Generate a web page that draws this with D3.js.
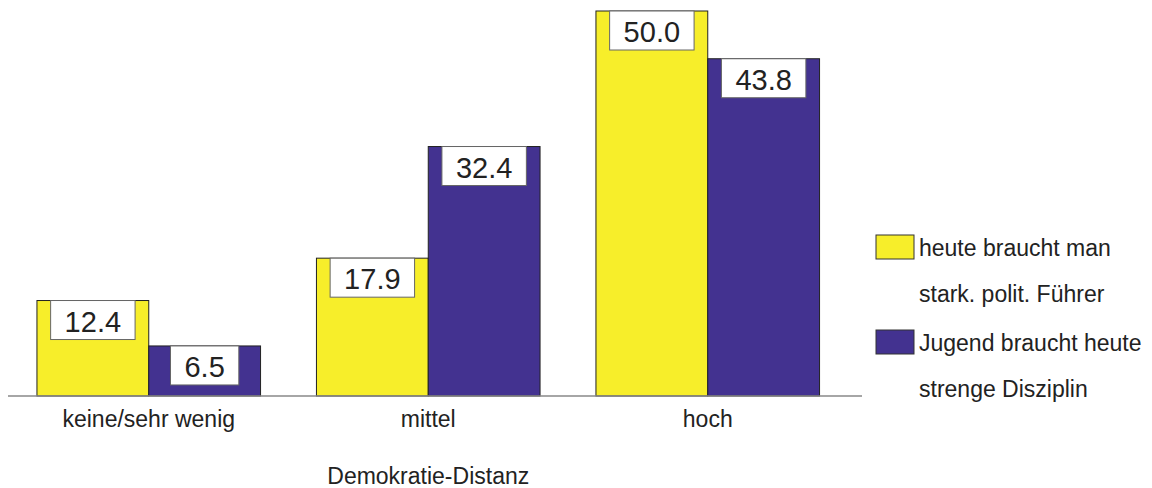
<!DOCTYPE html>
<html><head><meta charset="utf-8">
<script src="https://cdn.jsdelivr.net/npm/d3@7"></script>
<style>body{margin:0;background:#fff}svg{display:block;font-family:"Liberation Sans",Arial,sans-serif}</style>
</head><body><svg id="c" width="1152" height="488"></svg>
<script>
const categories = ["keine/sehr wenig", "mittel", "hoch"];
const seriesNames = ["heute braucht man|stark. polit. Führer", "Jugend braucht heute|strenge Disziplin"];
const fuehrer = [12.4, 17.9, 50.0];
const disziplin = [6.5, 32.4, 43.8];
const colors = ["#F7EE2A", "#433290"];
const axisTitle = "Demokratie-Distanz";

const svg = d3.select("#c");
const series = [fuehrer, disziplin];
const x0 = d3.scaleBand().domain(categories).range([9, 847.5]).paddingInner(0.2).paddingOuter(0.1);
const x1 = d3.scaleBand().domain([0, 1]).range([0, x0.bandwidth()]);
const y = d3.scaleLinear().domain([0, 50]).range([396, 11]);

const g = svg.selectAll("g.grp").data(categories).join("g").attr("transform", d => `translate(${x0(d)},0)`);
const data = categories.map((c, i) => series.map((s, k) => ({k, v: s[i]})));
g.each(function(c, i) {
  const gg = d3.select(this);
  const items = data[i];
  gg.selectAll("rect.bar").data(items).join("rect")
    .attr("x", d => x1(d.k)).attr("y", d => y(d.v))
    .attr("width", x1.bandwidth()).attr("height", d => y(0) - y(d.v))
    .attr("fill", d => colors[d.k]).attr("stroke", "#222").attr("stroke-width", 1);
  items.forEach(d => {
    const txt = gg.append("text").attr("x", x1(d.k) + x1.bandwidth() / 2).attr("y", y(d.v) + 31)
      .attr("text-anchor", "middle").attr("font-size", 29).attr("fill", "#222").text(d.v.toFixed(1));
    const w = txt.node().getComputedTextLength() + 28;
    gg.insert("rect", "text").attr("x", x1(d.k) + x1.bandwidth() / 2 - w / 2).attr("y", y(d.v))
      .attr("width", w).attr("height", 39).attr("fill", "#fff").attr("stroke", "#666").attr("stroke-width", 1);
  });
});
svg.selectAll("text").raise();

svg.append("line").attr("x1", 8).attr("x2", 862).attr("y1", y(0)).attr("y2", y(0))
  .attr("stroke", "#888").attr("stroke-width", 1.5);

svg.selectAll("text.cat").data(categories).join("text").attr("class", "cat")
  .attr("x", d => x0(d) + x0.bandwidth() / 2).attr("y", 427).attr("text-anchor", "middle")
  .attr("font-size", 23).attr("fill", "#222").text(d => d);

svg.append("text").attr("x", x0("mittel") + x0.bandwidth() / 2).attr("y", 484).attr("text-anchor", "middle")
  .attr("font-size", 23).attr("fill", "#222").text(axisTitle);

const leg = svg.append("g");
seriesNames.forEach((n, k) => {
  const top = 235 + k * 95;
  leg.append("rect").attr("x", 876).attr("y", top).attr("width", 38).attr("height", 24)
    .attr("fill", colors[k]).attr("stroke", "#333").attr("stroke-width", 1);
  n.split("|").forEach((line, j) => {
    leg.append("text").attr("x", 919).attr("y", top + 21 + j * 46).attr("font-size", 23)
      .attr("fill", "#222").text(line);
  });
});
</script></body></html>
